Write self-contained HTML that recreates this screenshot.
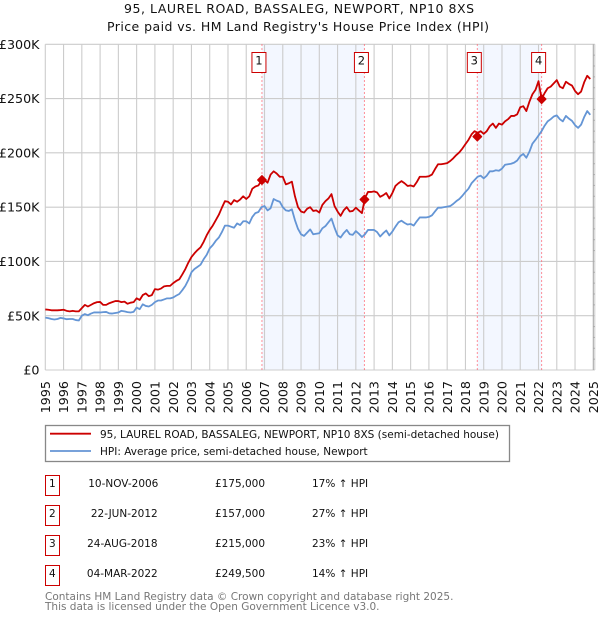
<!DOCTYPE html>
<html lang="en">
<head>
<meta charset="utf-8">
<title>95, Laurel Road price chart</title>
<style>
html,body{margin:0;padding:0;background:#fff;width:600px;height:620px;overflow:hidden}
svg{display:block}
text{font-family:"DejaVu Sans",sans-serif;fill:#111}
</style>
</head>
<body>
<svg id="chart" xmlns="http://www.w3.org/2000/svg" width="600" height="620" viewBox="0 0 600 620">
  <text x="124" y="13" font-size="12.5" textLength="350" lengthAdjust="spacing">95, LAUREL ROAD, BASSALEG, NEWPORT, NP10 8XS</text>
  <text x="107" y="31" font-size="12.5" textLength="382" lengthAdjust="spacing">Price paid vs. HM Land Registry's House Price Index (HPI)</text>
  <g id="bands"></g>
  <g id="grid"></g>
  <g id="yticks"></g>
  <g id="xticks"></g>
  <g id="vlines"></g>
  <g id="series"></g>
  <g id="markers"></g>

  <g>
    <rect x="45.5" y="425.5" width="464" height="36" fill="#fff" stroke="#888" stroke-width="1.3"/>
    <line x1="50" x2="91" y1="433.7" y2="433.7" stroke="#cc0000" stroke-width="1.8"/>
    <text x="100" y="438" font-size="10.5">95, LAUREL ROAD, BASSALEG, NEWPORT, NP10 8XS (semi-detached house)</text>
    <line x1="50" x2="91" y1="451" y2="451" stroke="#6495d5" stroke-width="1.8"/>
    <text x="100" y="455" font-size="10.5">HPI: Average price, semi-detached house, Newport</text>
  </g>

  <g font-size="10.5">
    <g>
      <rect x="45.5" y="475.5" width="14" height="20" fill="#fff" stroke="#cc0000" stroke-width="1"/>
      <text x="52.3" y="487" text-anchor="middle">1</text>
      <text x="123.3" y="487" text-anchor="middle">10-NOV-2006</text>
      <text x="240" y="487" text-anchor="middle">£175,000</text>
      <text x="312" y="487">17% ↑ HPI</text>
    </g>
    <g>
      <rect x="45.5" y="505.5" width="14" height="20" fill="#fff" stroke="#cc0000" stroke-width="1"/>
      <text x="52.3" y="517" text-anchor="middle">2</text>
      <text x="124.3" y="517" text-anchor="middle">22-JUN-2012</text>
      <text x="240" y="517" text-anchor="middle">£157,000</text>
      <text x="312" y="517">27% ↑ HPI</text>
    </g>
    <g>
      <rect x="45.5" y="535.5" width="14" height="20" fill="#fff" stroke="#cc0000" stroke-width="1"/>
      <text x="52.3" y="547" text-anchor="middle">3</text>
      <text x="122.3" y="547" text-anchor="middle">24-AUG-2018</text>
      <text x="240" y="547" text-anchor="middle">£215,000</text>
      <text x="312" y="547">23% ↑ HPI</text>
    </g>
    <g>
      <rect x="45.5" y="565.5" width="14" height="20" fill="#fff" stroke="#cc0000" stroke-width="1"/>
      <text x="52.3" y="577" text-anchor="middle">4</text>
      <text x="122.3" y="577" text-anchor="middle">04-MAR-2022</text>
      <text x="240" y="577" text-anchor="middle">£249,500</text>
      <text x="312" y="577">14% ↑ HPI</text>
    </g>
  </g>

  <text x="45" y="600" font-size="10.5" style="fill:#777">Contains HM Land Registry data © Crown copyright and database right 2025.</text>
  <text x="45" y="610" font-size="10.5" style="fill:#777">This data is licensed under the Open Government Licence v3.0.</text>
</svg>
<script>
var yearTicks = [1995,1996,1997,1998,1999,2000,2001,2002,2003,2004,2005,2006,2007,2008,2009,2010,2011,2012,2013,2014,2015,2016,2017,2018,2019,2020,2021,2022,2023,2024,2025];
var priceTicks = [0,50,100,150,200,250,300];
var priceTickLabels = ['£0','£50K','£100K','£150K','£200K','£250K','£300K'];
var minorPriceTicks = [10,20,30,40,60,70,80,90,110,120,130,140,160,170,180,190,210,220,230,240,260,270,280,290];
var startYear = 1995;
var samplesPerYear = 6;
var propertySeries = [
55.8,55.5,55,55,55,55.2,
55.5,54.5,54,54.5,54,54,
57,60,58.5,60,61.5,62.5,
62.7,60,60,61.5,62.5,63.5,
63.5,62.5,63,61,62,62.5,
66,64.5,69,70.5,68,69,
74.5,74,75,77,77.5,77.5,
80,82,83.5,88,93,99,
104,107.5,110.5,113,118,124,
129,133,138,143,149.5,155.5,
155,152.5,156.5,155,157,160,
157.5,160,167,169,170,174.5,
175,172.5,180,183,181,178,
178,171,172,173.5,160,150,
146,145,148.5,150,146.5,147,
145,152,155.5,158,162,151,
146,142,147,150,146,146.5,
149.5,147,144.5,158.5,164,164,
164.5,163.5,159.5,161,163,158,
163,169.5,172,174,172,169.5,
170,169,173,178,178,178,
178.5,180,185,189.5,189.5,190,
190.5,192.5,195,198,200.5,204,
208,212,217,220,218.5,220,
217.5,220,224.5,227,223,227,
226,229,231,234,234,235.5,
242,243,238.5,247,254,258,
266,249.5,255,259.5,261,264,
267,261,259.5,265.5,263.5,262,
257,254,256.5,265,271,268];
var hpiSeries = [
48.2,47.8,47,46.5,47,48,
47.5,46.8,47,47,46,45.6,
50,51.5,50.5,52,53,53,
53,53.3,53.5,52.2,52,52.5,
53,54.5,54,53.3,53,53.5,
57.5,56,60.5,59,58.5,60,
62.5,64,64,65,66,66,
66.8,68.5,70,73.5,77.5,83,
90,93,95,97,102,106,
112,115,119,122,127,133,
133,132,131,135,133.5,137,
137,135,141,144.5,145.5,150,
151,147,149,157.5,156,155,
150,147,146.5,148,138,130,
125,123.5,126.5,129.5,125,125.5,
126,130.5,132.5,136,139.5,131,
124,122,126,129,125,124.5,
128,125.5,122.5,125,129,129,
129,127,123,126,128.5,124,
127.5,132,136,137.5,135.5,134,
134.5,133,137,140.5,140.5,140.5,
141,142.5,146,149.5,149.5,150,
150.5,151,153,155.5,157.5,160.5,
164,167,172,175,178,179,
176.5,179,183,183,184,183.5,
185.5,189,189.5,190,191,193,
197,199,195.5,201,208.5,212,
216,220,225,229,231,233.5,
234.5,231,229,234,231.5,229.5,
225.5,223,226,233,238.5,235];
var saleDates = [2006.86,2012.47,2018.65,2022.17];
var salePrices = [175,157,215,249.5];
var saleLabels = ['1','2','3','4'];

var NS = 'http://www.w3.org/2000/svg';
function xScale(year){ return 45.3 + (year - 1995) * 18.267; }
function yScale(k){ return 370 - k * 1.0857; }
function make(tag, parentId){
  var el = document.createElementNS(NS, tag);
  document.getElementById(parentId).appendChild(el);
  return el;
}
function setAll(el, a){ for (var k in a) el.setAttribute(k, a[k]); return el; }

for (var b = 0; b < saleDates.length; b += 2) {
  var band = make('rect', 'bands');
  
  
  setAll(band, {x: xScale(saleDates[b]), y: yScale(300), width: xScale(saleDates[b + 1]) - xScale(saleDates[b]), height: yScale(0) - yScale(300), fill: '#f3f7ff'});
}
priceTicks.forEach(function(v, i){
  var g = make('line', 'grid');
  
  
  setAll(g, {x1: xScale(1995), x2: xScale(2025) + 1.5, y1: yScale(v), y2: yScale(v), stroke: '#ccc', 'stroke-width': 1.1});
  var t = make('text', 'yticks');
  
  
  setAll(t, {x: 39.5, y: yScale(v) + 4.6, 'text-anchor': 'end', 'font-size': 12.7});
  t.textContent = priceTickLabels[i];
});
yearTicks.forEach(function(y){
  var g = make('line', 'grid');
  
  
  setAll(g, {x1: xScale(y), x2: xScale(y), y1: yScale(300), y2: yScale(0), stroke: y === 2025 ? '#aaa' : '#ccc', 'stroke-width': 1.1});
  var t = make('text', 'xticks');
  
  
  var px = xScale(y) + 4.6;
  setAll(t, {x: px, y: 381, 'text-anchor': 'end', 'font-size': 12.7, transform: 'rotate(-90 ' + px + ' 381)'});
  t.textContent = y;
});
var frame = make('line', 'grid');


setAll(frame, {x1: xScale(2025) + 1.5, x2: xScale(2025) + 1.5, y1: yScale(300), y2: yScale(0), stroke: '#ccc', 'stroke-width': 1});
minorPriceTicks.forEach(function(v){
  var m = make('line', 'grid');
  
  
  setAll(m, {x1: xScale(2025), x2: xScale(2025) + 1.5, y1: yScale(v), y2: yScale(v), stroke: '#aaa', 'stroke-width': 1});
});
saleDates.forEach(function(d){
  var v = make('line', 'vlines');
  
  
  setAll(v, {x1: xScale(d), x2: xScale(d), y1: yScale(300), y2: yScale(0), stroke: '#ff6b77', 'stroke-width': 1, 'stroke-dasharray': '1.5,2.5'});
});
function seriesPath(values){
  return values.map(function(v, i){
    return (i ? 'L' : 'M') + xScale(startYear + i / samplesPerYear).toFixed(2) + ' ' + yScale(v).toFixed(2);
  }).join('');
}
var hpiPath = make('path', 'series');


setAll(hpiPath, {d: seriesPath(hpiSeries), fill: 'none', stroke: '#6495d5', 'stroke-width': 1.8, 'stroke-linejoin': 'round'});
var propertyPath = make('path', 'series');


setAll(propertyPath, {d: seriesPath(propertySeries), fill: 'none', stroke: '#cc0000', 'stroke-width': 1.8, 'stroke-linejoin': 'round'});
saleDates.forEach(function(d, i){
  var cx = xScale(d), cy = yScale(salePrices[i]);
  var r = 4.2;
  var dot = make('polygon', 'markers');
  
  
  setAll(dot, {points: [cx - r, cy, cx, cy - r, cx + r, cy, cx, cy + r].join(','), fill: '#cc0000', stroke: '#cc0000', 'stroke-width': 1.4, 'stroke-linejoin': 'round'});
  var box = make('rect', 'markers');
  
  
  setAll(box, {x: cx - 10, y: 52.5, width: 14, height: 20, fill: '#fff', stroke: '#cc0000', 'stroke-width': 1});
  var lab = make('text', 'markers');
  
  
  setAll(lab, {x: cx - 3, y: 64.5, 'text-anchor': 'middle', 'font-size': 11.5});
  lab.textContent = saleLabels[i];
});
</script>
</body>
</html>
